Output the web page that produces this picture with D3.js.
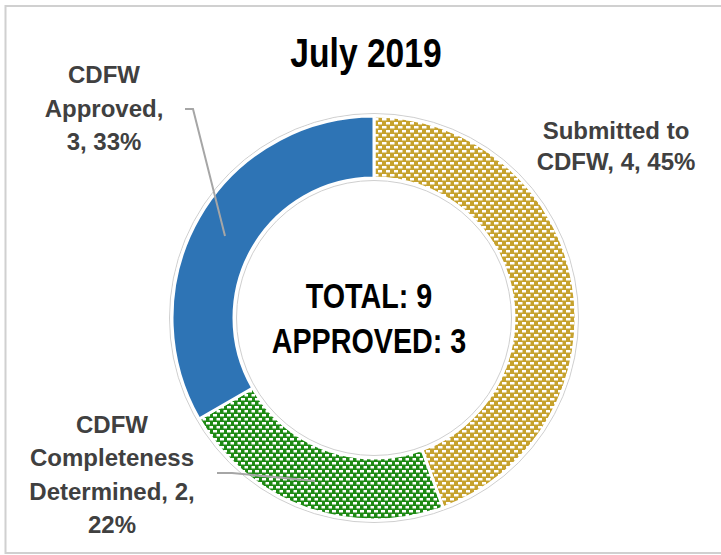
<!DOCTYPE html>
<html>
<head>
<meta charset="utf-8">
<script src="https://cdn.jsdelivr.net/npm/d3@7"></script>
<style>
  body { margin: 0; background: #fff; }
  svg { display: block; }
</style>
</head>
<body>
<div id="chart"></div>
<script>
// data
var title = "July 2019";
var categories = ["Submitted to CDFW", "CDFW Completeness Determined", "CDFW Approved"];
var values = [4, 2, 3];
var percents = ["45%", "22%", "33%"];
var labelLines = [
  ["Submitted to", "CDFW, 4, 45%"],
  ["CDFW", "Completeness", "Determined, 2,", "22%"],
  ["CDFW", "Approved,", "3, 33%"]
];
var colors = ["#C6A22E", "#1E8A14", "#2E74B5"];

var svgWidth = 721, svgHeight = 555;
var cx = 374, cy = 318;
var outerR = 202, innerR = 140;
var narrow = 0.82; // condensed look of the title / centre font

var svg = d3.select("#chart").append("svg")
  .attr("width", svgWidth)
  .attr("height", svgHeight);

// chart frame
svg.append("rect")
  .attr("x", 5.5).attr("y", 6)
  .attr("width", 740).attr("height", 547)
  .attr("fill", "#fff")
  .attr("stroke", "#d0d0d0")
  .attr("stroke-width", 2);

// patterns for the hatched slices
var defs = svg.append("defs");
function dotPattern(id, color, w, h, dw, dh) {
  var p = defs.append("pattern")
    .attr("id", id)
    .attr("patternUnits", "userSpaceOnUse")
    .attr("width", w).attr("height", h);
  p.append("rect").attr("width", w).attr("height", h).attr("fill", color);
  p.append("rect").attr("x", 0).attr("y", 0).attr("width", dw).attr("height", dh).attr("fill", "#fff");
  p.append("rect").attr("x", w / 2).attr("y", h / 2).attr("width", dw).attr("height", dh).attr("fill", "#fff");
}
dotPattern("patGold", colors[0], 8, 8, 4.5, 2.5);
dotPattern("patGreen", colors[1], 7, 8, 4, 2.5);
var fills = ["url(#patGold)", "url(#patGreen)", colors[2]];

var g = svg.append("g").attr("transform", `translate(${cx}, ${cy})`);

// faint outline rings
g.append("circle").attr("r", outerR + 2.5).attr("fill", "none").attr("stroke", "#cfcfcf").attr("stroke-width", 1);
g.append("circle").attr("r", innerR - 2.5).attr("fill", "none").attr("stroke", "#cfcfcf").attr("stroke-width", 1);

var pie = d3.pie().sort(null).value(d => d);
var arc = d3.arc().innerRadius(innerR).outerRadius(outerR);

g.selectAll("path.slice")
  .data(pie(values))
  .enter().append("path")
  .attr("class", "slice")
  .attr("d", arc)
  .attr("fill", (d, i) => fills[i])
  .attr("stroke", "#fff")
  .attr("stroke-width", 3);

// title
svg.append("text")
  .attr("transform", `translate(366, 67) scale(${narrow}, 1)`)
  .attr("text-anchor", "middle")
  .style("font-family", "'Liberation Sans', Arial, sans-serif")
  .style("font-weight", "bold")
  .style("font-size", "41px")
  .attr("fill", "#000")
  .text(title);

// centre text
var centerLines = ["TOTAL: " + d3.sum(values), "APPROVED: " + values[2]];
svg.selectAll("text.center")
  .data(centerLines)
  .enter().append("text")
  .attr("class", "center")
  .attr("transform", (d, i) => `translate(369, ${308 + i * 45}) scale(${narrow}, 1)`)
  .attr("text-anchor", "middle")
  .style("font-family", "'Liberation Sans', Arial, sans-serif")
  .style("font-weight", "bold")
  .style("font-size", "35px")
  .attr("fill", "#000")
  .text(d => d);

// data labels
var labelPos = [
  { x: 616, y: 139, dy: 31 },
  { x: 112, y: 433, dy: 33.3 },
  { x: 104, y: 83, dy: 33.5 }
];
labelLines.forEach(function(lines, i) {
  var t = svg.append("text")
    .attr("text-anchor", "middle")
    .style("font-family", "'Liberation Sans', Arial, sans-serif")
    .style("font-weight", "bold")
    .style("font-size", "24px")
    .attr("fill", "#404040");
  lines.forEach(function(s, j) {
    t.append("tspan")
      .attr("x", labelPos[i].x)
      .attr("y", labelPos[i].y + j * labelPos[i].dy)
      .text(s);
  });
});

// leader lines
var leaders = [
  [[217, 473], [232, 473], [315, 481]],
  [[185, 109], [193, 109], [225, 236]]
];
svg.selectAll("path.leader")
  .data(leaders)
  .enter().append("path")
  .attr("class", "leader")
  .attr("d", d3.line())
  .attr("fill", "none")
  .attr("stroke", "#a6a6a6")
  .attr("stroke-width", 2);
</script>
</body>
</html>
